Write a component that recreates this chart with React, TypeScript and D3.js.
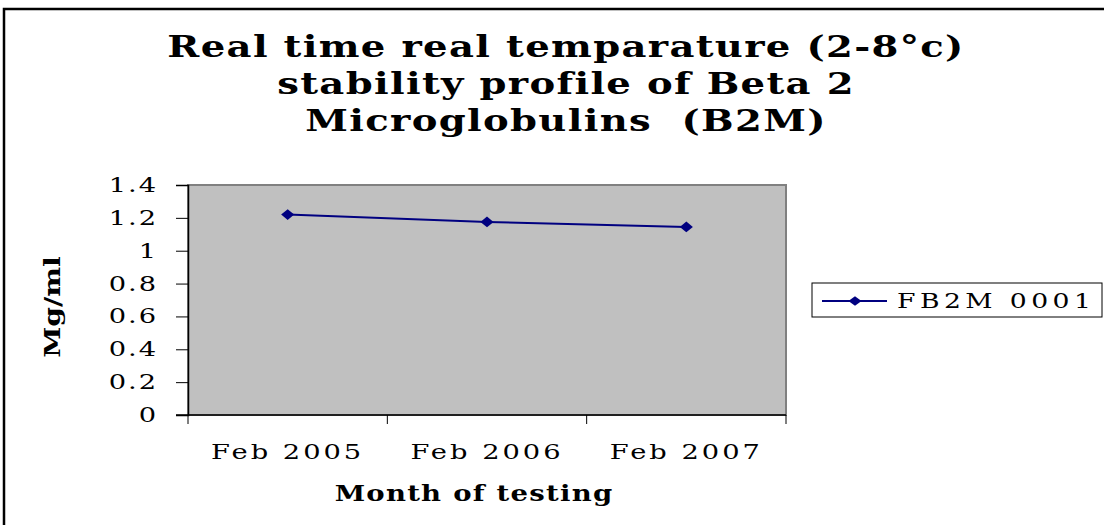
import { useEffect, useRef } from "react";
import * as d3 from "d3";

const months = ["Feb 2005", "Feb 2006", "Feb 2007"];
const fb2mValues = [1.22, 1.175, 1.145];
const yTicks = [0, 0.2, 0.4, 0.6, 0.8, 1, 1.2, 1.4];
const yTickLabels = ["0", "0.2", "0.4", "0.6", "0.8", "1", "1.2", "1.4"];
const seriesName = "FB2M 0001";
const titleLines = [
    "Real time real temparature (2-8\u00b0c)",
    "stability profile of Beta 2",
    "Microglobulins  (B2M)",
];

const FONT = "'DejaVu Serif', 'Liberation Serif', serif";
// the original uses a very wide serif face, so glyphs get stretched sideways
const STRETCH = 1.3;

export default function App() {
    const svgRef = useRef<SVGSVGElement>(null);

    useEffect(() => {
        const svg = d3.select(svgRef.current);
        svg.selectAll("*").remove();

        const left = 188, right = 786, top = 185, bottom = 415;

        const x = d3.scaleBand<string>().domain(months).range([left, right]);
        const y = d3.scaleLinear().domain([0, 1.4]).range([bottom, top]);

        // stretched text helper
        const label = (parent: any, tx: number, ty: number, txt: string, opts: any = {}) => {
            const g = parent.append("g")
                .attr("transform", `translate(${tx},${ty}) ${opts.rotate ? `rotate(${opts.rotate})` : ""} scale(${opts.sx ?? STRETCH},1)`);
            g.append("text")
                .attr("text-anchor", opts.anchor ?? "middle")
                .attr("font-family", FONT)
                .attr("font-weight", opts.bold ? "bold" : "normal")
                .attr("font-size", opts.size ?? 20)
                .attr("letter-spacing", opts.ls ?? 0)
                .attr("fill", "black")
                .style("white-space", "pre")
                .text(txt);
            return g;
        };

        // outer frame (runs off the right / bottom edge)
        svg.append("rect")
            .attr("x", 4).attr("y", 9)
            .attr("width", 1130).attr("height", 540)
            .attr("fill", "white")
            .attr("stroke", "black")
            .attr("stroke-width", 2.5);

        // title
        titleLines.forEach((t, i) => {
            label(svg, 566, 57 + i * 37, t, { bold: true, size: 29, ls: 1, sx: 1.33 });
        });

        // plot area
        svg.append("rect")
            .attr("x", left).attr("y", top)
            .attr("width", right - left).attr("height", bottom - top)
            .attr("fill", "#c0c0c0")
            .attr("stroke", "#808080")
            .attr("stroke-width", 2);

        // y axis
        const yAxis = svg.append("g")
            .attr("transform", `translate(${left},0)`)
            .call(d3.axisLeft(y)
                .tickValues(yTicks)
                .tickSize(12)
                .tickFormat(() => ""));
        yAxis.select(".domain").attr("stroke", "black").attr("stroke-width", 1.5);
        yAxis.selectAll(".tick line").attr("stroke", "black");
        yTicks.forEach((v, i) => {
            label(svg, 158, y(v) + 7, yTickLabels[i], { anchor: "end", size: 21, ls: 1.5 });
        });

        // x axis
        svg.append("line")
            .attr("x1", left - 12).attr("x2", right)
            .attr("y1", bottom).attr("y2", bottom)
            .attr("stroke", "black").attr("stroke-width", 1.5);

        const bounds = [...months.map(m => x(m) as number), right];
        svg.append("g").selectAll("line")
            .data(bounds)
            .join("line")
            .attr("x1", d => d).attr("x2", d => d)
            .attr("y1", bottom).attr("y2", bottom + 9)
            .attr("stroke", "black");

        const cx = (m: string) => (x(m) as number) + x.bandwidth() / 2;
        months.forEach(m => {
            label(svg, cx(m), 459, m, { size: 21, ls: 2.3 });
        });

        // axis titles
        label(svg, 474, 501, "Month of testing", { bold: true, size: 22, ls: 1, sx: 1.25 });
        label(svg, 60, 307, "Mg/ml", { bold: true, size: 22, rotate: -90, sx: 1.28 });

        // series
        const line = d3.line<number>()
            .x((d, i) => cx(months[i]))
            .y(d => y(d));

        svg.append("path")
            .datum(fb2mValues)
            .attr("d", line)
            .attr("fill", "none")
            .attr("stroke", "#000080")
            .attr("stroke-width", 2);

        const diamond = d3.symbol().type(d3.symbolDiamond2).size(90);
        svg.append("g").selectAll("path")
            .data(fb2mValues)
            .join("path")
            .attr("d", diamond)
            .attr("transform", (d, i) => `translate(${cx(months[i])},${y(d)}) scale(1.1,0.9)`)
            .attr("fill", "#000080");

        // legend
        const legend = svg.append("g");
        legend.append("rect")
            .attr("x", 812).attr("y", 283)
            .attr("width", 290).attr("height", 34)
            .attr("fill", "white")
            .attr("stroke", "black");
        legend.append("line")
            .attr("x1", 822).attr("x2", 887)
            .attr("y1", 301).attr("y2", 301)
            .attr("stroke", "#000080").attr("stroke-width", 2);
        legend.append("path")
            .attr("d", diamond)
            .attr("transform", "translate(855,301) scale(1.1,0.8)")
            .attr("fill", "#000080");
        label(legend, 897, 308, seriesName, { anchor: "start", size: 20.5, ls: 3.4 });
    }, []);

    return (
        <svg
            ref={svgRef}
            width={1104}
            height={525}
            style={{ position: "absolute", left: 0, top: 0, display: "block" }}
        />
    );
}
